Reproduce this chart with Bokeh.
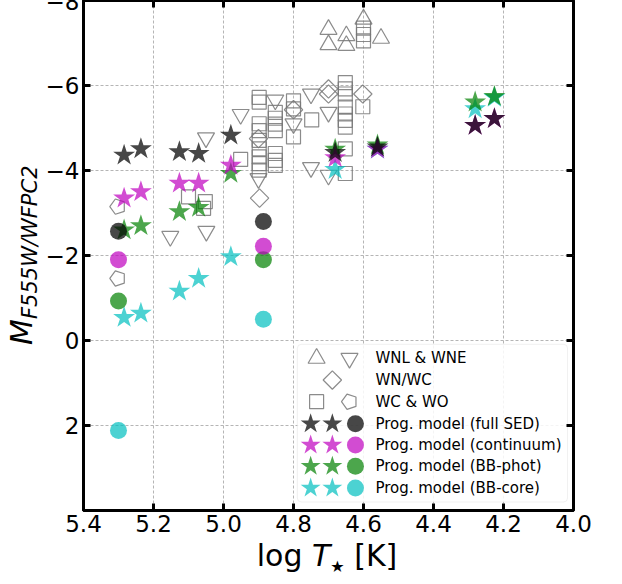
from math import pi
from bokeh.plotting import figure
from bokeh.models import (Range1d, FixedTicker, LinearAxis, Label, BoxAnnotation,
                          CustomJSTickFormatter, Div)
from bokeh.layouts import row, column
from bokeh.embed import file_html
from bokeh.resources import INLINE

# ---------------- data ----------------
# observed WR stars (log T*, M_F555W)
wnl_T = [4.70, 4.70, 4.649, 4.649, 4.60, 4.55]
wnl_M = [-7.32, -6.96, -7.17, -6.94, -7.56, -7.11]

wne_T = [5.152, 5.049, 5.05, 4.951, 4.852, 4.90, 4.80, 4.75, 4.70, 4.75, 4.70]
wne_M = [-2.45, -2.57, -4.77, -5.32, -5.66, -3.81, -5.10, -5.80, -5.37, -4.07, -3.89]

wnwc_T = [4.90, 4.897, 4.80, 4.70, 4.70, 4.602]
wnwc_M = [-4.75, -3.35, -5.43, -5.92, -5.80, -5.80]

wc_T = [4.898, 4.898, 4.898, 4.898, 4.898, 4.898, 4.898, 4.898, 4.898,
        4.852, 4.852, 4.852, 4.852, 4.852, 4.852, 4.852,
        4.951, 4.80, 4.80, 4.80, 4.748,
        4.652, 4.652, 4.652, 4.652, 4.652, 4.652, 4.652, 4.652, 4.652,
        4.602, 4.60, 4.60, 4.60, 5.10, 5.052, 5.057]
wc_M = [-5.72, -5.61, -5.10, -4.94, -4.71, -4.51, -4.32, -4.16, -4.01,
        -5.37, -5.23, -5.09, -4.94, -4.40, -4.24, -4.12,
        -4.26, -5.64, -5.45, -4.79, -5.19,
        -6.07, -5.92, -5.80, -5.49, -5.33, -5.18, -5.02, -4.51, -3.93,
        -5.50, -7.35, -7.20, -7.05, -3.38, -3.27, -3.11]

wo_T = [5.302, 5.302]
wo_M = [-3.15, -1.46]

# progenitor models
star_T = [5.284, 5.236, 5.126, 5.071, 4.979, 4.681, 4.56, 4.281, 4.226]
circ_T = [5.30, 4.886]

full_star = [-4.36, -4.51, -4.44, -4.40, -4.83, -4.42, -4.55, -5.06, -5.22]
full_circ = [-2.57, -2.80]
cont_star = [-3.35, -3.50, -3.70, -3.70, -4.12, -4.30, -4.50, -5.06, -5.22]
cont_circ = [-1.90, -2.22]
phot_star = [-2.60, -2.70, -3.03, -3.13, -3.93, -4.50, -4.60, -5.61, -5.74]
phot_circ = [-0.93, -1.90]
core_star = [-0.54, -0.64, -1.16, -1.46, -1.97, -4.02, -4.50, -5.45, -5.72]
core_circ = [2.12, -0.50]

x_ticks = [5.4, 5.2, 5.0, 4.8, 4.6, 4.4, 4.2, 4.0]
y_ticks = [-8, -6, -4, -2, 0, 2]

legend_labels = ["WNL & WNE", "WN/WC", "WC & WO", "Prog. model (full SED)",
                 "Prog. model (continuum)", "Prog. model (BB-phot)", "Prog. model (BB-core)"]

# ---------------- layout constants ----------------
FONT = "DejaVu Sans"
YLAB_W = 42          # width of the y-title strip
FRAME_W, FRAME_H = 490, 510
BORDER_L, BORDER_R, BORDER_T, BORDER_B = 40, 30, 8, 32
FIG_H = FRAME_H + BORDER_T + BORDER_B + 1
XLAB_H = 584 - FIG_H

# ---------------- figure ----------------
p = figure(frame_width=FRAME_W, frame_height=FRAME_H,
           x_range=Range1d(5.4, 4.0), y_range=Range1d(4, -8),
           output_backend="svg", toolbar_location=None,
           min_border_left=BORDER_L, min_border_right=BORDER_R,
           min_border_top=BORDER_T, min_border_bottom=BORDER_B)
p.background_fill_color = "white"
p.border_fill_color = "white"
p.outline_line_color = "black"
p.outline_line_width = 3

xt = FixedTicker(ticks=x_ticks, minor_ticks=[])
yt = FixedTicker(ticks=y_ticks, minor_ticks=[])

p.xaxis.ticker = xt
p.yaxis.ticker = yt
p.xaxis.formatter = CustomJSTickFormatter(code="return tick.toFixed(1);")
p.yaxis.formatter = CustomJSTickFormatter(
    code="return tick < 0 ? '\u2212' + Math.abs(tick) : String(tick);")
for ax in (p.xaxis[0], p.yaxis[0]):
    ax.major_tick_in = 7
    ax.major_tick_out = 0
    ax.major_tick_line_width = 3
    ax.minor_tick_line_color = None
    ax.axis_line_width = 3
    ax.major_label_text_font = FONT
    ax.major_label_text_font_size = "23px"
    ax.major_label_text_color = "black"
    ax.major_label_standoff = 4

blank = CustomJSTickFormatter(code="return '';")
for loc, tk in (("above", xt), ("right", yt)):
    ax = LinearAxis(ticker=tk, formatter=blank)
    ax.major_tick_in = 7
    ax.major_tick_out = 0
    ax.major_tick_line_width = 3
    ax.minor_tick_line_color = None
    ax.axis_line_color = None
    ax.major_label_text_font_size = "1px"
    ax.major_label_standoff = 0
    p.add_layout(ax, loc)

for g, tk in ((p.xgrid[0], xt), (p.ygrid[0], yt)):
    g.ticker = tk
    g.grid_line_color = "#b5b5b5"
    g.grid_line_dash = "3 2"
    g.grid_line_width = 1

# ---------------- observed WR markers ----------------
GRAY = "#777777"
okw = dict(fill_color=None, line_color=GRAY, line_alpha=0.85, line_width=1.2)
p.scatter(wnl_T, wnl_M, marker="triangle", size=17, **okw)
p.scatter(wne_T, wne_M, marker="inverted_triangle", size=17, **okw)
p.scatter(wnwc_T, wnwc_M, marker="square", angle=pi / 4, size=13, **okw)
p.scatter(wc_T, wc_M, marker="square", size=14, **okw)
try:
    p.ngon(x=wo_T, y=wo_M, radius=8, radius_units="screen", n=5, angle=pi / 2, **okw)
except Exception:
    p.scatter(wo_T, wo_M, marker="hex", size=15, **okw)

# ---------------- progenitor models ----------------
models = [("#00bfbf", 0.7, core_star, core_circ),
          ("#008000", 0.7, phot_star, phot_circ),
          ("#bf00bf", 0.7, cont_star, cont_circ),
          ("#000000", 0.72, full_star, full_circ)]
for col, a, ms, mc in models:
    p.scatter(star_T, ms, marker="star", size=23, fill_color=col, fill_alpha=a, line_color=None)
    p.scatter(circ_T, mc, marker="circle", size=17, fill_color=col, fill_alpha=a, line_color=None)

# ---------------- legend (drawn by hand) ----------------
leg_rows = [0.42, 0.93, 1.44, 1.96, 2.46, 2.96, 3.47]
box = BoxAnnotation(left=4.789, right=4.017, top=0.09, bottom=3.80,
                    fill_color="white", fill_alpha=0.85, line_color="#cccccc",
                    line_width=1, border_radius=4, level="underlay")
p.add_layout(box)

p.scatter([4.734], [leg_rows[0]], marker="triangle", size=17, **okw)
p.scatter([4.640], [leg_rows[0]], marker="inverted_triangle", size=17, **okw)
p.scatter([4.689], [leg_rows[1]], marker="square", angle=pi / 4, size=13, **okw)
p.scatter([4.734], [leg_rows[2]], marker="square", size=14, **okw)
try:
    p.ngon(x=[4.640], y=[leg_rows[2]], radius=8, radius_units="screen", n=5, angle=pi / 2, **okw)
except Exception:
    p.scatter([4.640], [leg_rows[2]], marker="hex", size=15, **okw)

leg_models = [("#000000", 0.72), ("#bf00bf", 0.7), ("#008000", 0.7), ("#00bfbf", 0.7)]
for i, (col, a) in enumerate(leg_models):
    yy = leg_rows[3 + i]
    p.scatter([4.751, 4.689], [yy, yy], marker="star", size=21, fill_color=col, fill_alpha=a, line_color=None)
    p.scatter([4.623], [yy], marker="circle", size=17, fill_color=col, fill_alpha=a, line_color=None)

for yy, txt in zip(leg_rows, legend_labels):
    p.add_layout(Label(x=4.566, y=yy, text=txt, text_font=FONT, text_font_size="15px",
                       text_baseline="middle", text_align="left", text_color="black"))

# ---------------- axis titles as HTML (italic / subscript parts) ----------------
u0 = FIG_H - 353  # distance of the y-title start from the bottom of the strip
ytitle = (
    f'<div style="position:relative; width:{FIG_H}px; height:{YLAB_W}px; '
    f'transform-origin:0 0; transform:translate(0px,{FIG_H}px) rotate(-90deg); '
    f"font-family:'{FONT}'; font-style:italic; color:black; white-space:nowrap;\">"
    f'<span style="position:absolute; left:{u0}px; top:7px; font-size:30px; line-height:30px;">M</span>'
    f'<span style="position:absolute; left:{u0 + 26}px; top:20px; font-size:21px; line-height:21px;">F555W/WFPC2</span>'
    '</div>'
)
ydiv = Div(text=ytitle, width=YLAB_W, height=FIG_H, styles={"margin": "0", "padding": "0"})

cx = 90 - 8 - YLAB_W + FRAME_W // 2  # frame centre inside the x-title strip
xtitle = (
    f'<div style="width:{2 * cx}px; text-align:center; font-family:\'{FONT}\'; '
    'font-size:30px; line-height:28px; white-space:nowrap; color:black;">'
    'log <i>T</i><span style="font-size:16px; position:relative; top:6px;">\u2605</span> [K]'
    '</div>'
)
xdiv = Div(text=xtitle, width=FRAME_W + BORDER_L + BORDER_R, height=XLAB_H,
           styles={"margin": "0", "padding": "0"})

layout = row(ydiv, column(p, xdiv), margin=(-8, 0, 0, 0))

open("out.html", "w").write(file_html(layout, INLINE))
